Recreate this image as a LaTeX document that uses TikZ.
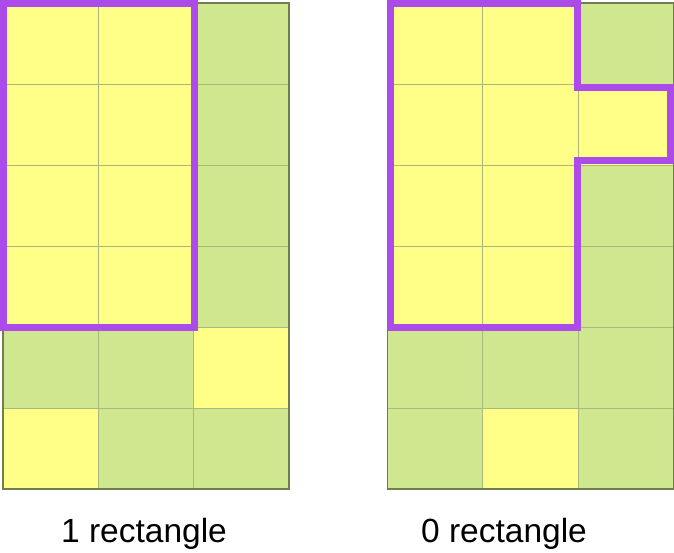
\documentclass[tikz,border=0pt]{standalone}
\usepackage{fontspec}
\setmainfont{Liberation Sans}
\definecolor{gelb}{HTML}{FFFF88}
\definecolor{gruen}{HTML}{CFE88F}
\definecolor{linie}{HTML}{A9B97C}
\definecolor{rand}{HTML}{6F7F50}
\definecolor{lila}{HTML}{AD4BEA}
\tikzset{
  feld/.style={draw=linie,line width=1pt},
  rahmen/.style={draw=rand,line width=1.3pt},
  umriss/.style={lila,line width=7pt},
  beschr/.style={anchor=base,font=\fontsize{33.5}{40}\selectfont,inner sep=0pt},
}

\begin{document}
\begin{tikzpicture}[x=1pt,y=-1pt]
  \useasboundingbox (0,0) rectangle (674,552);
  % linkes Raster
  \foreach \c [count=\i from 0] in {gelb,gelb,gruen, gelb,gelb,gruen, gelb,gelb,gruen,
      gelb,gelb,gruen, gruen,gruen,gelb, gelb,gruen,gruen}
    \draw[feld,fill=\c] ({3+95.3*mod(\i,3)},{3+81*int(\i/3)}) rectangle ++(95.3,81);
  \draw[rahmen] (3,3) rectangle (289,489);
  % rechtes Raster
  \foreach \c [count=\i from 0] in {gelb,gelb,gruen, gelb,gelb,gelb, gelb,gelb,gruen,
      gelb,gelb,gruen, gruen,gruen,gruen, gruen,gelb,gruen}
    \draw[feld,fill=\c] ({387.5+95.3*mod(\i,3)},{3+81*int(\i/3)}) rectangle ++(95.3,81);
  \draw[rahmen] (387.5,3) rectangle (673.4,489);
  % Umrisse
  \draw[umriss] (3.5,3.5) rectangle (194.5,327.5);
  \draw[umriss] (390.5,3.5)--(577.5,3.5)--(577.5,87.5)--(670.5,87.5)--(670.5,160.5)
    --(577.5,160.5)--(577.5,327.5)--(390.5,327.5)--cycle;
  \node[beschr] (links) at (144,542) {1 rectangle};
  \node[beschr] (rechts) at (504,542) {0 rectangle};
\end{tikzpicture}
\end{document}
